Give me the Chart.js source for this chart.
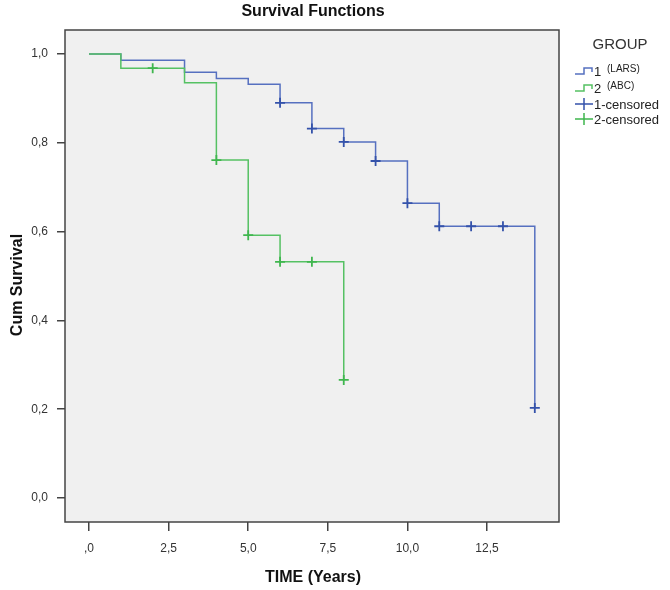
<!DOCTYPE html>
<html>
<head>
<meta charset="utf-8">
<script src="https://cdn.jsdelivr.net/npm/chart.js@4.4.1/dist/chart.umd.min.js"></script>
<style>
  html, body { margin: 0; padding: 0; background: #fff; }
</style>
</head>
<body>
<canvas id="myChart" width="670" height="590"></canvas>
<script>
// Kaplan-Meier steps
const larsTime = [0, 1, 3, 4, 5, 6, 7, 8, 9, 10, 11, 14];
const larsSurv = [1.0, 0.986, 0.959, 0.945, 0.932, 0.890, 0.832, 0.802, 0.759, 0.664, 0.612, 0.203];
const larsCensTime = [6, 7, 8, 9, 10, 11, 12, 13, 14];
const larsCensSurv = [0.890, 0.832, 0.802, 0.759, 0.664, 0.612, 0.612, 0.612, 0.203];

const abcTime = [0, 1, 3, 4, 5, 6, 8];
const abcSurv = [1.0, 0.968, 0.935, 0.761, 0.592, 0.532, 0.266];
const abcCensTime = [2, 4, 5, 6, 7, 8];
const abcCensSurv = [0.968, 0.761, 0.592, 0.532, 0.532, 0.266];

const xTicks = [0, 2.5, 5, 7.5, 10, 12.5];
const yTicks = [0, 0.2, 0.4, 0.6, 0.8, 1.0];

const blueLine = '#5670c0';
const greenLine = '#55c163';
const blueMark = '#3452aa';
const greenMark = '#3fb64e';

function pts(xs, ys) {
  return xs.map((x, i) => ({ x: x, y: ys[i] }));
}

// background, frame, titles and the legend
const decor = {
  id: 'decor',
  beforeDraw(chart) {
    const c = chart.ctx, a = chart.chartArea;
    c.save();
    c.fillStyle = '#fff';
    c.fillRect(0, 0, chart.width, chart.height);
    c.fillStyle = '#f0f0f0';
    c.fillRect(a.left, a.top, a.right - a.left, a.bottom - a.top);
    c.restore();
  },
  afterDraw(chart) {
    const c = chart.ctx, a = chart.chartArea;
    c.save();
    c.strokeStyle = '#444';
    c.lineWidth = 1.5;
    c.strokeRect(a.left, a.top, a.right - a.left, a.bottom - a.top);

    c.fillStyle = '#111';
    c.font = 'bold 16px "Liberation Sans", Arial, sans-serif';
    c.textAlign = 'center';
    c.textBaseline = 'middle';
    c.fillText('Survival Functions', 313, 12);
    c.fillText('TIME (Years)', 313, 578);
    c.save();
    c.translate(18, 285);
    c.rotate(-Math.PI / 2);
    c.fillText('Cum Survival', 0, 0);
    c.restore();

    // legend
    c.fillStyle = '#333';
    c.font = '15px "Liberation Sans", Arial, sans-serif';
    c.fillText('GROUP', 620, 45);
    c.textAlign = 'left';
    const items = [
      { kind: 'step', color: blueLine, main: '1', sub: '(LARS)', y: 71 },
      { kind: 'step', color: greenLine, main: '2', sub: '(ABC)', y: 88 },
      { kind: 'cross', color: blueMark, main: '1-censored', y: 104 },
      { kind: 'cross', color: greenMark, main: '2-censored', y: 119 }
    ];
    items.forEach(it => {
      c.strokeStyle = it.color;
      c.lineWidth = 1.5;
      c.beginPath();
      if (it.kind === 'step') {
        c.moveTo(575, it.y + 3);
        c.lineTo(584, it.y + 3);
        c.lineTo(584, it.y - 3);
        c.lineTo(592, it.y - 3);
        c.lineTo(592, it.y + 1);
      } else {
        c.moveTo(575, it.y);
        c.lineTo(593, it.y);
        c.moveTo(584, it.y - 6);
        c.lineTo(584, it.y + 6);
      }
      c.stroke();
      c.fillStyle = '#222';
      c.font = '13px "Liberation Sans", Arial, sans-serif';
      c.fillText(it.main, 594, it.y + 1);
      if (it.sub) {
        c.font = '10px "Liberation Sans", Arial, sans-serif';
        c.fillText(it.sub, 607, it.y - 2);
      }
    });
    c.restore();
  }
};

const ctx = document.getElementById('myChart').getContext('2d');
const myChart = new Chart(ctx, {
  type: 'line',
  data: {
    datasets: [
      {
        label: '2-censored',
        data: pts(abcCensTime, abcCensSurv),
        showLine: false,
        pointStyle: 'cross',
        pointRadius: 5,
        pointBorderWidth: 1.8,
        pointBorderColor: greenMark,
        borderColor: greenMark
      },
      {
        label: '1-censored',
        data: pts(larsCensTime, larsCensSurv),
        showLine: false,
        pointStyle: 'cross',
        pointRadius: 5,
        pointBorderWidth: 1.8,
        pointBorderColor: blueMark,
        borderColor: blueMark
      },
      {
        label: '2 (ABC)',
        data: pts(abcTime, abcSurv),
        stepped: 'before',
        borderColor: greenLine,
        borderWidth: 1.5,
        pointRadius: 0,
        fill: false
      },
      {
        label: '1 (LARS)',
        data: pts(larsTime, larsSurv),
        stepped: 'before',
        borderColor: blueLine,
        borderWidth: 1.5,
        pointRadius: 0,
        fill: false
      }
    ]
  },
  options: {
    responsive: false,
    animation: false,
    layout: { padding: { left: 0, top: 30, right: 111, bottom: 0 } },
    plugins: {
      legend: { display: false },
      tooltip: { enabled: false },
      title: { display: false }
    },
    scales: {
      x: {
        type: 'linear',
        min: -0.754,
        max: 14.76,
        afterBuildTicks: s => { s.ticks = xTicks.map(v => ({ value: v })); },
        afterFit: s => { s.height = 68; },
        grid: { drawOnChartArea: false, drawTicks: true, tickLength: 9, color: '#444', lineWidth: 1.5 },
        border: { display: false },
        ticks: {
          padding: 10,
          color: '#333',
          font: { family: '"Liberation Sans", Arial, sans-serif', size: 12 },
          maxRotation: 0,
          callback: v => v === 0 ? ',0' : v.toFixed(1).replace('.', ',')
        }
      },
      y: {
        type: 'linear',
        min: -0.054,
        max: 1.054,
        afterBuildTicks: s => { s.ticks = yTicks.map(v => ({ value: v })); },
        afterFit: s => { s.width = 65; },
        grid: { drawOnChartArea: false, drawTicks: true, tickLength: 8, color: '#444', lineWidth: 1.5 },
        border: { display: false },
        ticks: {
          padding: 9,
          color: '#333',
          font: { family: '"Liberation Sans", Arial, sans-serif', size: 12 },
          callback: v => v.toFixed(1).replace('.', ',')
        }
      }
    }
  },
  plugins: [decor]
});
</script>
</body>
</html>
